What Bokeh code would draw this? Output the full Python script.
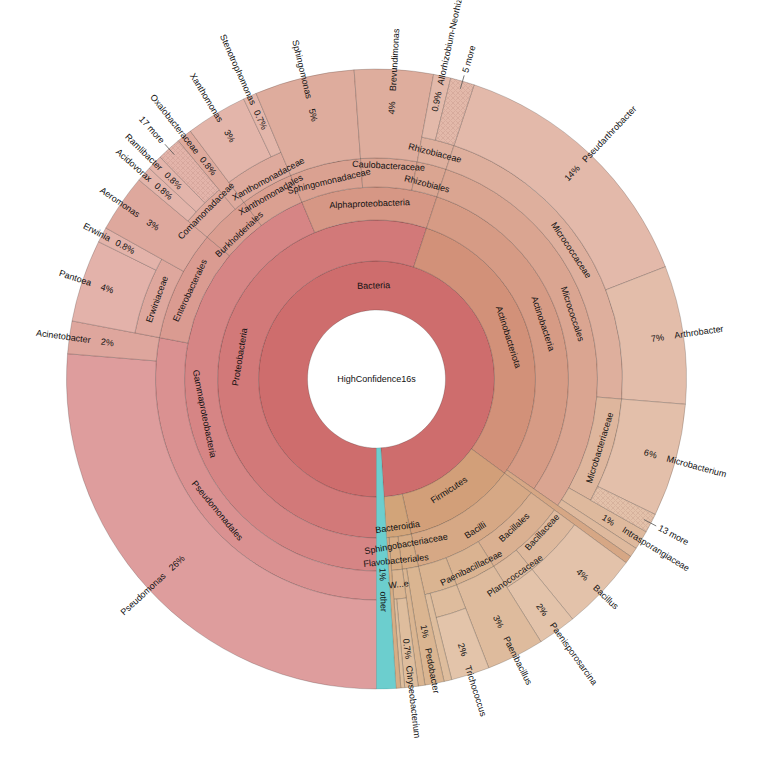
import math
import colorsys
from bokeh.plotting import figure
from bokeh.models import ColumnDataSource
from bokeh.embed import file_html
from bokeh.resources import INLINE
from bokeh.core.properties import value

# ---------------- data ----------------
ROOT = "HighConfidence16s"

# leaves in clockwise order, starting at 6 o'clock; values are % of all reads
leaf_paths = [
    "Bacteria;Proteobacteria;Gammaproteobacteria;Pseudomonadales;Pseudomonas",
    "Bacteria;Proteobacteria;Gammaproteobacteria;Pseudomonadales;Acinetobacter",
    "Bacteria;Proteobacteria;Gammaproteobacteria;Enterobacterales;Erwiniaceae;Pantoea",
    "Bacteria;Proteobacteria;Gammaproteobacteria;Enterobacterales;Erwiniaceae;Erwinia",
    "Bacteria;Proteobacteria;Gammaproteobacteria;Enterobacterales;Aeromonas",
    "Bacteria;Proteobacteria;Gammaproteobacteria;Burkholderiales;Comamonadaceae;Acidovorax",
    "Bacteria;Proteobacteria;Gammaproteobacteria;Burkholderiales;Comamonadaceae;Ramlibacter",
    "Bacteria;Proteobacteria;Gammaproteobacteria;Burkholderiales;Comamonadaceae;17 more",
    "Bacteria;Proteobacteria;Gammaproteobacteria;Burkholderiales;Oxalobacteraceae",
    "Bacteria;Proteobacteria;Gammaproteobacteria;Xanthomonadales;Xanthomonadaceae;Xanthomonas",
    "Bacteria;Proteobacteria;Gammaproteobacteria;Xanthomonadales;Xanthomonadaceae;Stenotrophomonas",
    "Bacteria;Proteobacteria;Alphaproteobacteria;Sphingomonadaceae;Sphingomonas",
    "Bacteria;Proteobacteria;Alphaproteobacteria;Caulobacteraceae;Brevundimonas",
    "Bacteria;Proteobacteria;Alphaproteobacteria;Rhizobiales;Rhizobiaceae;Allorhizobium-Neorhizobium-Pararhizobium-Rhizobium",
    "Bacteria;Proteobacteria;Alphaproteobacteria;Rhizobiales;Rhizobiaceae;5 more",
    "Bacteria;Actinobacteriota;Actinobacteria;Micrococcales;Micrococcaceae;Pseudarthrobacter",
    "Bacteria;Actinobacteriota;Actinobacteria;Micrococcales;Micrococcaceae;Arthrobacter",
    "Bacteria;Actinobacteriota;Actinobacteria;Micrococcales;Microbacteriaceae;Microbacterium",
    "Bacteria;Actinobacteriota;Actinobacteria;Micrococcales;Microbacteriaceae;13 more",
    "Bacteria;Actinobacteriota;Actinobacteria;Micrococcales;Intrasporangiaceae",
    "Bacteria;Actinobacteriota;Actinobacteria;Micrococcales;(unlabelled)",
    "Bacteria;Actinobacteriota;(unlabelled)",
    "Bacteria;Firmicutes;Bacilli;Bacillales;Bacillaceae;Bacillus",
    "Bacteria;Firmicutes;Bacilli;Bacillales;Planococcaceae;Paenisporosarcina",
    "Bacteria;Firmicutes;Bacilli;Paenibacillaceae;Paenibacillus",
    "Bacteria;Firmicutes;Bacilli;Lactobacillales;Carnobacteriaceae;Trichococcus",
    "Bacteria;Firmicutes;Bacilli;Lactobacillales;(unlabelled)",
    "Bacteria;Bacteroidia;Sphingobacteriaceae;Pedobacter",
    "Bacteria;Bacteroidia;Sphingobacteriaceae;(unlabelled)",
    "Bacteria;Bacteroidia;Flavobacteriales;Weeksellaceae;Chryseobacterium",
    "Bacteria;Bacteroidia;Flavobacteriales;Weeksellaceae;(unlabelled)",
    "Bacteria;Bacteroidia;(unlabelled)",
    "other",
]
leaf_values = [26.3, 1.7, 4.3, 0.8, 3.0, 0.8, 0.8, 1.25, 0.8, 3.2, 0.7,
               5.2, 4.1, 0.9, 1.25,
               14.0, 7.2, 5.9, 1.0, 1.0, 0.5, 0.4,
               4.0, 2.0, 3.0, 2.0, 0.4,
               1.0, 0.35, 0.7, 0.2, 0.25,
               1.0]

hidden_labels = ["Lactobacillales", "Carnobacteriaceae", "(unlabelled)"]
short_labels = {"Weeksellaceae": "W...e"}

# ---------------- layout / style ----------------
RING_EDGES = [69, 118, 159, 192, 221, 246]
R_OUT = 310
START = 180.0          # degrees clockwise from 12 o'clock
label_shift = {"Bacteroidia": 11, "Sphingobacteriaceae": -8, "Flavobacteriales": 7,
               "Caulobacteraceae": 7, "Sphingomonadaceae": -3, "Rhizobiales": -5,
               "Burkholderiales": -7, "Xanthomonadales": 6,
               "Comamonadaceae": 6, "Xanthomonadaceae": -6,
               "Bacillaceae": -8, "Planococcaceae": 7, "Paenibacillaceae": 5,
               "Bacillales": -4, "Bacilli": 5, "Firmicutes": -6}
label_turn = {"Xanthomonadaceae": 1.5, "Comamonadaceae": -0.5,
              "Bacillaceae": -0.8, "Planococcaceae": 0.5}
FONT = "Liberation Sans"
FS = "9px"
OTHER_COLOR = "#6ccece"
W, H = 760, 750
CX, CY = 376, 378.5    # centre of the chart in page pixels

# ---------------- build nodes ----------------
nodes = {}
order = []
cum = 0.0
leaf_keys = set()
for path, v in zip(leaf_paths, leaf_values):
    parts = path.split(";")
    s = START + cum * 3.6
    e = s + v * 3.6
    for k in range(1, len(parts) + 1):
        key = tuple(parts[:k])
        if key not in nodes:
            nodes[key] = {"start": s, "end": e, "depth": k, "value": 0.0}
            order.append(key)
        nodes[key]["end"] = e
        nodes[key]["value"] += v
    leaf_keys.add(tuple(parts))
    cum += v


def color_for(key, n):
    if key[0] == "other":
        return OTHER_COLOR
    frac = (n["start"] - START) / 360.0
    h = (30.0 * frac) / 360.0
    l = 0.585 + 0.032 * n["depth"]
    r, g, b = colorsys.hls_to_rgb(h, l, 0.5)
    return "#%02x%02x%02x" % (int(r * 255 + .5), int(g * 255 + .5), int(b * 255 + .5))


def pct_text(v):
    if v >= 1:
        return "%d%%" % int(round(v))
    return "%.1f%%" % v


wed = dict(inner=[], outer=[], sa=[], ea=[], color=[], line=[])
hat = dict(inner=[], outer=[], sa=[], ea=[], color=[])
for key in order:
    n = nodes[key]
    d = n["depth"]
    rin = RING_EDGES[d - 1]
    rout = R_OUT if key in leaf_keys else RING_EDGES[d]
    sa = math.radians(90 - n["end"])
    ea = math.radians(90 - n["start"])
    col = color_for(key, n)
    tgt = hat if key[-1].endswith(" more") else wed
    tgt["inner"].append(rin)
    tgt["outer"].append(rout)
    tgt["sa"].append(sa)
    tgt["ea"].append(ea)
    tgt["color"].append(col)
    if tgt is wed:
        wed["line"].append("#1f6f6f" if key[0] == "other" else "#000000")

p = figure(width=W, height=H, x_range=(-CX, W - CX), y_range=(-(H - CY), CY),
           output_backend="svg", toolbar_location=None, min_border=0)
p.axis.visible = False
p.grid.visible = False
p.outline_line_color = None
p.background_fill_color = "white"

p.annular_wedge(x=0, y=0, inner_radius="inner", outer_radius="outer",
                start_angle="sa", end_angle="ea", fill_color="color",
                line_color="line", line_alpha=0.3, line_width=0.6,
                source=ColumnDataSource(wed))
p.annular_wedge(x=0, y=0, inner_radius="inner", outer_radius="outer",
                start_angle="sa", end_angle="ea", fill_color="color",
                line_color="black", line_alpha=0.3, line_width=0.6,
                hatch_pattern="diagonal_cross", hatch_color="#9c6a5a",
                hatch_alpha=0.35, hatch_scale=5, hatch_weight=0.5,
                source=ColumnDataSource(hat))


def norm_rot(deg):
    while deg <= -90:
        deg += 180
    while deg > 90:
        deg -= 180
    return deg


inner_lbl = dict(x=[], y=[], t=[], a=[])
pct_lbl = dict(x=[], y=[], t=[], a=[])
name_l = dict(x=[], y=[], t=[], a=[])
name_r = dict(x=[], y=[], t=[], a=[])
seg = dict(x0=[], y0=[], x1=[], y1=[])

for key in order:
    n = nodes[key]
    name = key[-1]
    if name in hidden_labels:
        continue
    d = n["depth"]
    mid = (n["start"] + n["end"]) / 2.0
    right_half = (mid % 360) <= 180
    if key in leaf_keys:
        ray = math.radians(90 - mid)
        ux, uy = math.cos(ray), math.sin(ray)
        rin = RING_EDGES[d - 1]
        rot = math.radians(90 - mid) if right_half else math.radians(90 - mid + 180)
        if name.endswith(" more"):
            seg["x0"].append((R_OUT - 8) * ux); seg["y0"].append((R_OUT - 8) * uy)
            seg["x1"].append((R_OUT + 6) * ux); seg["y1"].append((R_OUT + 6) * uy)
            rr = R_OUT + 9
            tgt = name_l if right_half else name_r
            tgt["x"].append(rr * ux); tgt["y"].append(rr * uy)
            tgt["t"].append(name); tgt["a"].append(rot)
            continue
        c = (rin + R_OUT) / 2.0 + 6
        pct_lbl["x"].append(c * ux); pct_lbl["y"].append(c * uy)
        pct_lbl["t"].append(pct_text(n["value"])); pct_lbl["a"].append(rot)
        rr = c + 17
        tgt = name_l if right_half else name_r
        tgt["x"].append(rr * ux); tgt["y"].append(rr * uy)
        tgt["t"].append(name); tgt["a"].append(rot)
    else:
        lm = mid + label_turn.get(name, 0)
        ray = math.radians(90 - lm)
        ux, uy = math.cos(ray), math.sin(ray)
        rm = (RING_EDGES[d - 1] + RING_EDGES[d]) / 2.0 + label_shift.get(name, 0)
        inner_lbl["x"].append(rm * ux); inner_lbl["y"].append(rm * uy)
        inner_lbl["t"].append(short_labels.get(name, name))
        inner_lbl["a"].append(math.radians(norm_rot(-lm)))

p.segment(x0="x0", y0="y0", x1="x1", y1="y1", line_color="#555555",
          line_width=0.8, source=ColumnDataSource(seg))

common = dict(text_font=value(FONT), text_font_size=FS, text_color="#111111",
              text_baseline="middle")
p.text(x="x", y="y", text="t", angle="a", text_align="center",
       source=ColumnDataSource(inner_lbl), **common)
p.text(x="x", y="y", text="t", angle="a", text_align="center",
       source=ColumnDataSource(pct_lbl), **common)
p.text(x="x", y="y", text="t", angle="a", text_align="left",
       source=ColumnDataSource(name_l), **common)
p.text(x="x", y="y", text="t", angle="a", text_align="right",
       source=ColumnDataSource(name_r), **common)
p.text(x=[0], y=[0], text=[ROOT], text_align="center", **common)

open("out.html", "w").write(file_html(p, INLINE))
